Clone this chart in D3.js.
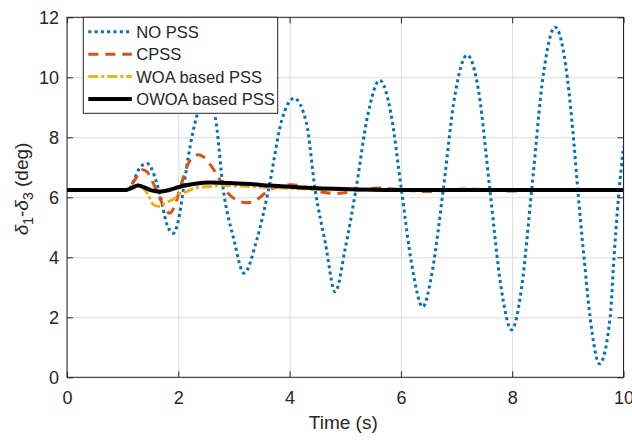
<!DOCTYPE html>
<html lang="en">
<head>
<meta charset="UTF-8">
<title>delta1-delta3</title>
<script src="https://cdn.jsdelivr.net/npm/d3@7/dist/d3.min.js"></script>
<style>
    body { margin: 0; background: #fff; }
    svg text { font-family: "Liberation Sans", Arial, sans-serif; fill: #262626; }
    .grid line { stroke: #dcdcdc; stroke-width: 1; }
    .grid path { display: none; }
    .axis path { display: none; }
    .axis line { stroke: #262626; }
    .axis text { font-size: 18px; }
    .curve { fill: none; }
</style>
</head>
<body>
<div id="chart"></div>
<script>
"use strict";

// time (s) and angle (deg)
var tNoPss = [0, 1.0, 1.1, 1.2, 1.28, 1.36, 1.44, 1.52, 1.6, 1.67, 1.79, 1.91, 2.02, 2.09, 2.18, 2.33, 2.5, 2.66, 2.81,
              3.0, 3.18, 3.41, 3.62, 3.86, 4.08, 4.3, 4.46, 4.64, 4.82, 5.0, 5.19, 5.4, 5.62, 5.82, 6.01, 6.2, 6.39,
              6.57, 6.76, 6.97, 7.19, 7.4, 7.6, 7.8, 7.99, 8.17, 8.35, 8.56, 8.77, 8.99, 9.1, 9.19, 9.29, 9.4, 9.57,
              9.76, 9.83, 9.91, 10.0];
var vNoPss = [6.24, 6.24, 6.26, 6.55, 6.9, 7.08, 7.13, 6.95, 6.55, 6.1, 5.13, 4.8, 5.4, 6.24, 7.35, 8.69, 9.3, 8.69, 6.24,
              4.58, 3.47, 4.58, 6.24, 8.58, 9.3, 8.5, 6.24, 4.5, 2.85, 4.3, 6.24, 8.7, 9.9, 8.8, 6.24, 3.7, 2.35,
              3.6, 6.24, 9.4, 10.74, 9.5, 6.24, 3.0, 1.58, 3.0, 6.24, 10.1, 11.67, 10.0, 8.0, 6.0, 4.0, 2.0, 0.45,
              2.0, 4.0, 6.0, 7.68];

var tCpss = [0, 1.0, 1.1, 1.16, 1.28, 1.36, 1.44, 1.52, 1.64, 1.75, 1.85, 1.94, 2.06, 2.18, 2.27, 2.36, 2.45, 2.6, 2.75,
             2.85, 3.05, 3.23, 3.35, 3.47, 3.59, 3.8, 4.04, 4.3, 4.5, 4.85, 5.2, 5.62, 6.0, 6.45, 6.8, 7.2, 7.6,
             8.0, 8.4, 8.8, 9.2, 9.6, 10.0];
var vCpss = [6.24, 6.24, 6.25, 6.41, 6.75, 6.92, 6.85, 6.58, 6.1, 5.65, 5.47, 5.74, 6.47, 7.13, 7.33, 7.42, 7.35, 7.02, 6.58,
             6.24, 5.91, 5.82, 5.86, 6.0, 6.19, 6.36, 6.42, 6.33, 6.21, 6.13, 6.22, 6.31, 6.25, 6.19, 6.23, 6.28, 6.24,
             6.21, 6.24, 6.26, 6.24, 6.23, 6.24];

var tWoa = [0, 1.05, 1.15, 1.27, 1.36, 1.46, 1.55, 1.67, 1.76, 1.94, 2.0, 2.15, 2.33, 2.57, 2.8, 3.0, 3.5, 4.0, 4.5, 5.0, 6.0, 10.0];
var vWoa = [6.24, 6.24, 6.33, 6.42, 6.33, 6.08, 5.76, 5.69, 5.8, 5.97, 6.08, 6.19, 6.32, 6.36, 6.39, 6.38, 6.34, 6.3, 6.27, 6.25, 6.24, 6.24];

var tOwoa = [0, 1.05, 1.15, 1.28, 1.4, 1.52, 1.67, 1.85, 2.03, 2.3, 2.57, 2.9, 3.3, 3.65, 4.0, 4.5, 5.1, 6.0, 10.0];
var vOwoa = [6.24, 6.24, 6.3, 6.39, 6.32, 6.23, 6.19, 6.25, 6.35, 6.45, 6.49, 6.48, 6.44, 6.39, 6.35, 6.3, 6.27, 6.24, 6.24];

var seriesNames = ["NO PSS", "CPSS", "WOA based PSS", "OWOA based PSS"];
var xTicks = [0, 2, 4, 6, 8, 10];
var yTicks = [0, 2, 4, 6, 8, 10, 12];

var styles = [
    { color: "#0072BD", width: 3,   dash: "3 3.3" },
    { color: "#D95319", width: 3,   dash: "10 7" },
    { color: "#EDB120", width: 3,   dash: "10 3 3 3" },
    { color: "#000000", width: 4,   dash: null }
];

var series = [
    { name: seriesNames[0], t: tNoPss, v: vNoPss },
    { name: seriesNames[1], t: tCpss,  v: vCpss },
    { name: seriesNames[2], t: tWoa,   v: vWoa },
    { name: seriesNames[3], t: tOwoa,  v: vOwoa }
];

var container = { width: 632, height: 444 };
var margin = { top: 17.3, right: 8.5, bottom: 66.7, left: 67 };
var width  = container.width - margin.left - margin.right,
    height = container.height - margin.top - margin.bottom;

var svg = d3.select("#chart").append("svg")
    .attr("width", container.width)
    .attr("height", container.height);

var g = svg.append("g")
    .attr("transform", "translate(" + margin.left + "," + margin.top + ")");

var x = d3.scaleLinear().domain([0, 10]).range([0, width]);
var y = d3.scaleLinear().domain([0, 12]).range([height, 0]);

// grid
g.append("g").attr("class", "grid")
    .attr("transform", "translate(0," + height + ")")
    .call(d3.axisBottom(x).tickValues(xTicks).tickSize(-height).tickFormat(""));
g.append("g").attr("class", "grid")
    .call(d3.axisLeft(y).tickValues(yTicks).tickSize(-width).tickFormat(""));

// curves
g.append("clipPath").attr("id", "plotclip")
    .append("rect").attr("width", width).attr("height", height);

var line = d3.line()
    .x(function(d) { return x(d[0]); })
    .y(function(d) { return y(d[1]); })
    .curve(d3.curveMonotoneX);

var curves = g.append("g").attr("clip-path", "url(#plotclip)");
series.forEach(function(s, i)
{
    var pts = s.t.map(function(t, k) { return [t, s.v[k]]; });
    curves.append("path")
        .attr("class", "curve")
        .attr("d", line(pts))
        .attr("stroke", styles[i].color)
        .attr("stroke-width", styles[i].width)
        .attr("stroke-dasharray", styles[i].dash);
});

// axes with inward ticks on all four sides
var tick = 6;
g.append("g").attr("class", "axis")
    .attr("transform", "translate(0," + height + ")")
    .call(d3.axisBottom(x).tickValues(xTicks).tickSize(-tick).tickPadding(14).tickFormat(d3.format("d")));
g.append("g").attr("class", "axis")
    .call(d3.axisTop(x).tickValues(xTicks).tickSize(-tick).tickFormat(""));
g.append("g").attr("class", "axis")
    .call(d3.axisLeft(y).tickValues(yTicks).tickSize(-tick).tickPadding(8).tickFormat(d3.format("d")));
g.append("g").attr("class", "axis")
    .attr("transform", "translate(" + width + ",0)")
    .call(d3.axisRight(y).tickValues(yTicks).tickSize(-tick).tickFormat(""));

g.append("rect")
    .attr("width", width).attr("height", height)
    .attr("fill", "none").attr("stroke", "#262626").attr("stroke-width", 1);

// axis labels
svg.append("text")
    .attr("x", margin.left + width / 2 - 2)
    .attr("y", 429)
    .attr("text-anchor", "middle")
    .style("font-size", "19px")
    .text("Time (s)");

var ylab = svg.append("text")
    .attr("transform", "translate(28," + 189 + ") rotate(-90)")
    .attr("text-anchor", "middle")
    .style("font-size", "19px");
ylab.append("tspan").style("font-style", "italic").text("\u03b4");
ylab.append("tspan").attr("dy", 5).style("font-size", "14px").text("1");
ylab.append("tspan").attr("dy", -5).text("-");
ylab.append("tspan").style("font-style", "italic").text("\u03b4");
ylab.append("tspan").attr("dy", 5).style("font-size", "14px").text("3");
ylab.append("tspan").attr("dy", -5).text(" (deg)");

// legend
var leg = svg.append("g").attr("transform", "translate(83.3,17.3)");
leg.append("rect")
    .attr("width", 194.4).attr("height", 96)
    .attr("fill", "#fff").attr("stroke", "#262626").attr("stroke-width", 1);

var rows = leg.selectAll("g.row").data(series).enter().append("g")
    .attr("class", "row")
    .attr("transform", function(d, i) { return "translate(0," + (14.5 + i * 22.4) + ")"; });
rows.append("line")
    .attr("x1", 5).attr("x2", 48.5)
    .attr("stroke", function(d, i) { return styles[i].color; })
    .attr("stroke-width", function(d, i) { return styles[i].width; })
    .attr("stroke-dasharray", function(d, i) { return styles[i].dash; });
rows.append("text")
    .attr("x", 53)
    .attr("dy", "0.36em")
    .style("font-size", "16.5px")
    .text(function(d) { return d.name; });
</script>
</body>
</html>
